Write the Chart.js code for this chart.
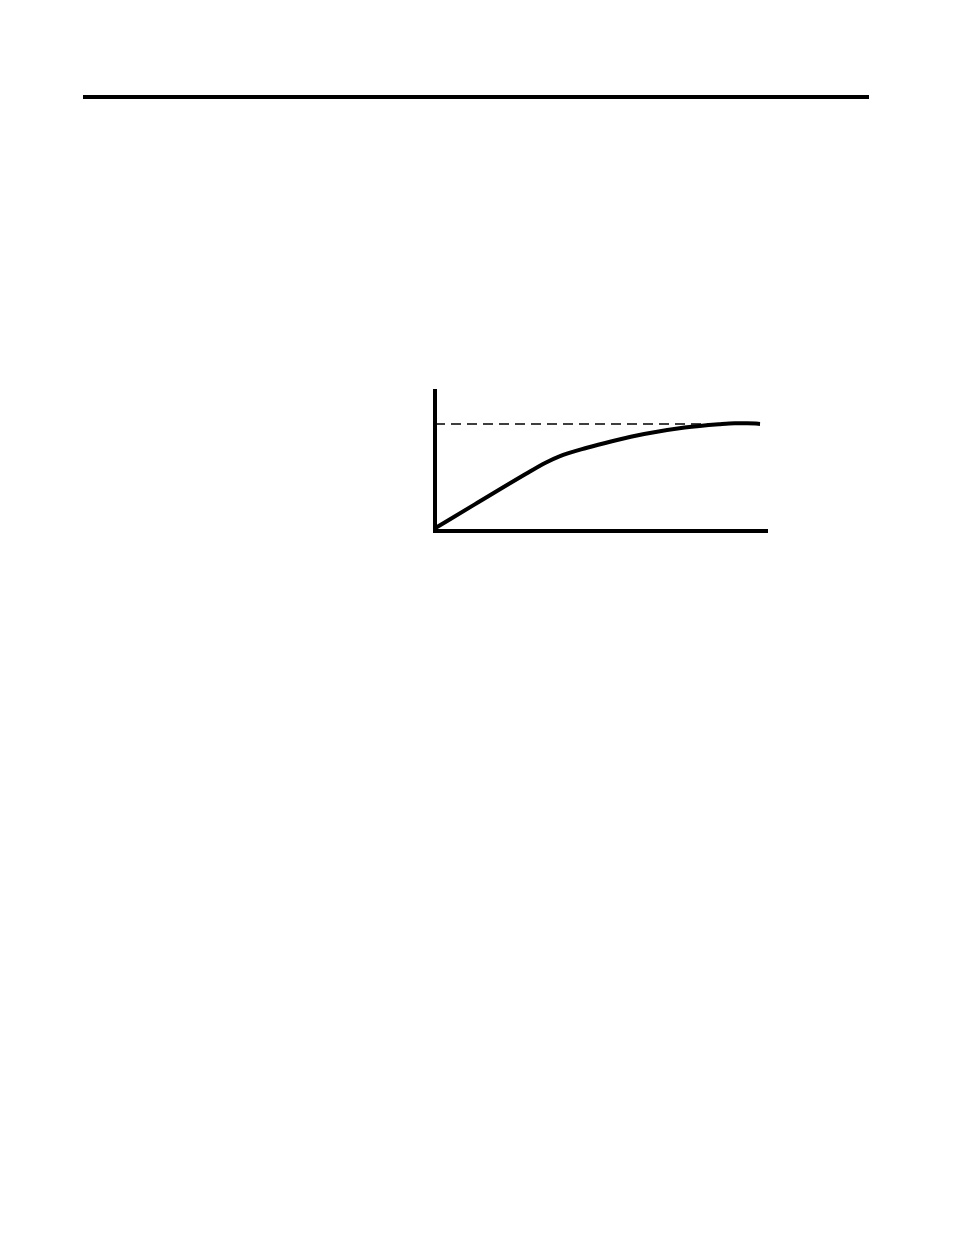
<!DOCTYPE html>
<html>
<head>
<meta charset="utf-8">
<script src="https://cdn.jsdelivr.net/npm/chart.js@4/dist/chart.umd.min.js"></script>
<style>
  body { margin: 0; background: #fff; width: 954px; height: 1235px; position: relative; }
  #rule { position: absolute; left: 83px; top: 95px; width: 786px; height: 4px; background: #000; }
  #wrap { position: absolute; left: 431px; top: 387px; width: 338px; height: 146px; }
</style>
</head>
<body>
<div id="rule"></div>
<div id="wrap"><canvas id="myChart" width="338" height="146"></canvas></div>
<script>
// curve, x and y on a 0..100 scale
var curveX = [0, 12.1, 27.3, 33.3, 37.3, 45.5, 53.6, 63.0, 75.2, 85.5, 90.3, 94, 97.9]
var curveY = [2, 19.2, 40.7, 48.8, 53.2, 59.3, 64.3, 69.3, 73.9, 76.3, 77.0, 77.0, 76.5]
// dashed reference level
var levelX = [0, 97.9]
var levelY = [76.4, 76.4]

function toPoints(xs, ys) {
    var pts = []
    xs.forEach((x, i) => { pts.push({ x: x, y: ys[i] }) })
    return pts
}

var ctx = document.getElementById("myChart").getContext('2d');
var myChart = new Chart(ctx, {
    type: 'line',
    data: {
        datasets: [{
            data: toPoints(levelX, levelY),
            borderColor: '#000',
            borderWidth: 1.5,
            borderDash: [10, 6],
            pointRadius: 0
        }, {
            data: toPoints(curveX, curveY),
            borderColor: '#000',
            borderWidth: 4,
            pointRadius: 0,
            cubicInterpolationMode: 'monotone'
        }]
    },
    options: {
        responsive: false,
        animation: false,
        devicePixelRatio: 1,
        clip: false,
        layout: { padding: { left: 4, right: 2, top: 4, bottom: 2 } },
        plugins: { legend: { display: false }, tooltip: { enabled: false } },
        scales: {
            x: {
                type: 'linear', min: 0, max: 100,
                grid: { display: false, drawTicks: false },
                ticks: { display: false },
                border: { display: true, color: '#000', width: 4 }
            },
            y: {
                min: 0, max: 100,
                grid: { display: false, drawTicks: false },
                ticks: { display: false },
                border: { display: true, color: '#000', width: 4 }
            }
        }
    }
});
</script>
</body>
</html>
